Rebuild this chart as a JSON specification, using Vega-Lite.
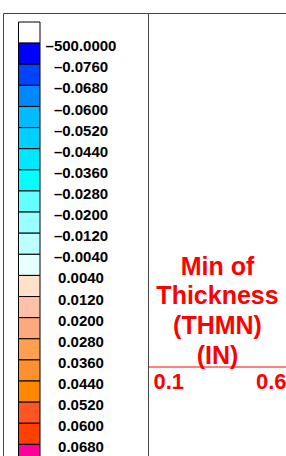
{
  "$schema": "https://vega.github.io/schema/vega-lite/v6.json",
  "padding": {"left": 2, "top": 12, "right": 0, "bottom": 0},
  "spacing": 0,
  "bounds": "flush",
  "background": "white",
  "config": {
    "view": {"stroke": "#444444", "strokeWidth": 1},
    "font": "Liberation Sans",
    "concat": {"spacing": 0}
  },
  "hconcat": [
    {
      "width": 145,
      "height": 450,
      "data": {
        "values": [
          {"i": 0, "label": ""},
          {"i": 1, "label": "–500.0000"},
          {"i": 2, "label": "–0.0760"},
          {"i": 3, "label": "–0.0680"},
          {"i": 4, "label": "–0.0600"},
          {"i": 5, "label": "–0.0520"},
          {"i": 6, "label": "–0.0440"},
          {"i": 7, "label": "–0.0360"},
          {"i": 8, "label": "–0.0280"},
          {"i": 9, "label": "–0.0200"},
          {"i": 10, "label": "–0.0120"},
          {"i": 11, "label": "–0.0040"},
          {"i": 12, "label": "0.0040"},
          {"i": 13, "label": "0.0120"},
          {"i": 14, "label": "0.0200"},
          {"i": 15, "label": "0.0280"},
          {"i": 16, "label": "0.0360"},
          {"i": 17, "label": "0.0440"},
          {"i": 18, "label": "0.0520"},
          {"i": 19, "label": "0.0600"},
          {"i": 20, "label": "0.0680"}
        ]
      },
      "layer": [
        {
          "mark": {"type": "rect", "stroke": "black", "strokeWidth": 1},
          "encoding": {
            "y": {"field": "i", "type": "ordinal", "axis": null,
                  "scale": {"type": "band", "range": [9, 452.5], "paddingInner": 0, "paddingOuter": 0}},
            "x": {"value": 15.5},
            "x2": {"value": 37},
            "fill": {"field": "i", "type": "ordinal", "legend": null,
                     "scale": {"range": ["#FFFFFF", "#0000FF", "#0044FF", "#0088FF", "#00BBFF", "#00D0FF", "#00E8FF", "#00FFFF", "#66FFFF", "#99FFFF", "#BBFFFF", "#E6FFFF", "#FFE0C8", "#FFC0A8", "#FFA880", "#FFA050", "#FF9030", "#FF8800", "#FF5522", "#FF4000", "#FF0099"]}}
          }
        },
        {
          "mark": {"type": "text", "font": "Liberation Sans", "fontWeight": "bold", "fontSize": 15,
                   "align": "center", "baseline": "middle", "yOffset": -7.5, "color": "#000000"},
          "encoding": {
            "y": {"field": "i", "type": "ordinal", "axis": null,
                  "scale": {"type": "band", "range": [9, 452.5], "paddingInner": 0, "paddingOuter": 0}},
            "x": {"value": 78},
            "text": {"field": "label"}
          }
        }
      ]
    },
    {
      "width": 140,
      "height": 450,
      "data": {
        "values": [
          {"line": 0, "text": "Min of"},
          {"line": 1, "text": "Thickness"},
          {"line": 2, "text": "(THMN)"},
          {"line": 3, "text": "(IN)"}
        ]
      },
      "mark": {"type": "text", "font": "Liberation Sans", "fontWeight": "bold", "fontSize": 25,
               "align": "center", "baseline": "alphabetic", "color": "#FF0000"},
      "encoding": {
        "x": {"datum": 0.35, "type": "quantitative",
              "scale": {"domain": [0.1, 0.6], "range": [0, 139], "nice": false, "zero": false},
              "axis": {"orient": "bottom", "offset": -96.5, "values": [0.1, 0.6], "format": ".1f",
                       "title": null, "grid": false, "ticks": false,
                       "domainColor": "#FF0000", "domainWidth": 1,
                       "labelColor": "#FF0000", "labelFont": "Liberation Sans", "labelFontWeight": "bold",
                       "labelFontSize": 22, "labelFlush": true, "labelPadding": 5,
                       "labelOffset": {"condition": {"test": "datum.value < 0.3", "value": 5}, "value": -1}}},
        "y": {"field": "line", "type": "ordinal", "axis": null,
              "scale": {"type": "point", "range": [261.5, 351], "padding": 0}},
        "text": {"field": "text"}
      }
    }
  ]
}
